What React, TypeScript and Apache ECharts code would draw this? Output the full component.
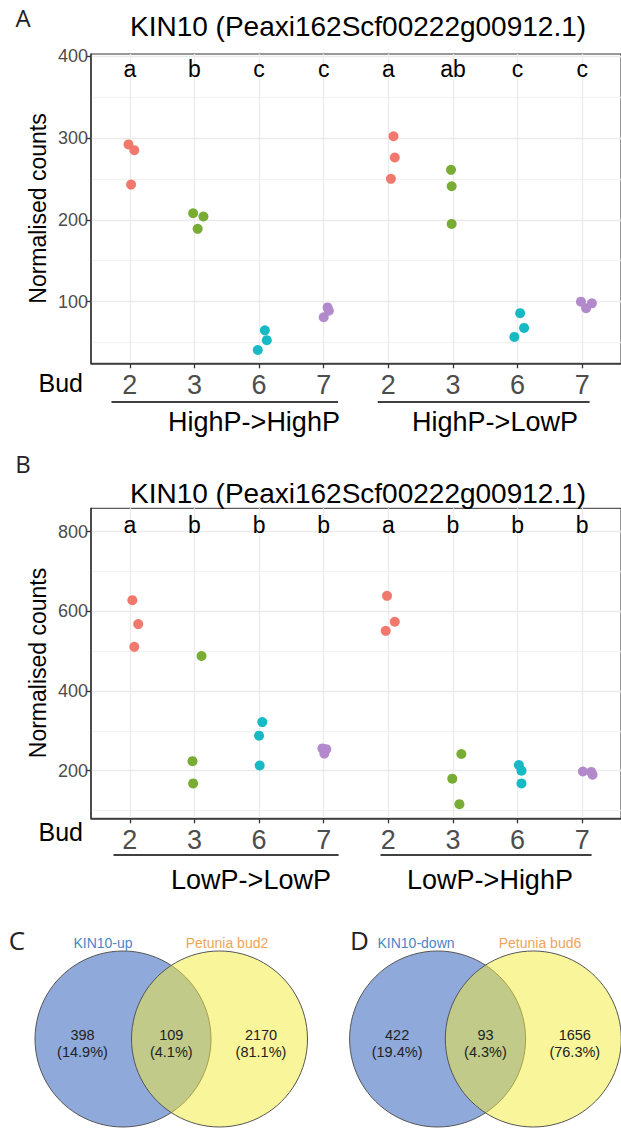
import React, { useEffect, useRef } from "react";
import * as echarts from "echarts";

// ---------- data ----------
const titleText = "KIN10 (Peaxi162Scf00222g00912.1)";
const budLabels = ["2", "3", "6", "7", "2", "3", "6", "7"];
const budPositions = [1, 2, 3, 4, 5, 6, 7, 8];
const groupsA = ["HighP->HighP", "HighP->LowP"];
const groupsB = ["LowP->LowP", "LowP->HighP"];
const lettersA = ["a", "b", "c", "c", "a", "ab", "c", "c"];
const lettersB = ["a", "b", "b", "b", "a", "b", "b", "b"];
const letterLevelA = 384;
const letterLevelB = 818;
const yTicksA = [100, 200, 300, 400];
const yMinorA = [50, 150, 250, 350];
const yTicksB = [200, 400, 600, 800];
const yMinorB = [100, 300, 500, 700];

const countsA = [
  [292, 285, 243],
  [208, 204, 189],
  [65, 53, 41],
  [93, 89, 81],
  [302, 276, 250],
  [261, 241, 195],
  [86, 68, 57],
  [100, 92, 98],
];
const jitterA = [
  [-0.02, 0.07, 0.02],
  [-0.02, 0.14, 0.05],
  [0.09, 0.12, -0.02],
  [0.06, 0.08, 0.0],
  [0.08, 0.1, 0.04],
  [-0.03, -0.02, -0.02],
  [0.04, 0.1, -0.05],
  [-0.02, 0.06, 0.15],
];
const countsB = [
  [628, 568, 511],
  [488, 224, 168],
  [322, 288, 213],
  [256, 254, 243],
  [639, 574, 551],
  [242, 180, 116],
  [214, 200, 168],
  [198, 197, 190],
];
const jitterB = [
  [0.04, 0.13, 0.07],
  [0.11, -0.03, -0.02],
  [0.05, 0.0, 0.01],
  [-0.02, 0.04, 0.01],
  [-0.02, 0.1, -0.04],
  [0.13, -0.01, 0.1],
  [0.02, 0.06, 0.06],
  [0.01, 0.14, 0.16],
];

const vennCSets = ["KIN10-up", "Petunia bud2"];
const vennCCounts = [398, 109, 2170];
const vennCPercents = ["14.9%", "4.1%", "81.1%"];
const vennDSets = ["KIN10-down", "Petunia bud6"];
const vennDCounts = [422, 93, 1656];
const vennDPercents = ["19.4%", "4.3%", "76.3%"];

// ---------- styles ----------
const budColors = ["#F1786D", "#78AC34", "#17BAC4", "#B28ACB"];
const FONT = '"Liberation Sans", Arial, sans-serif';
const LETTER_FONT = '"Open Sans", "Liberation Sans", sans-serif';

function buildPanel(p: number, counts: number[][], jitter: number[][], letters: string[], level: number) {
  const series: any[] = [];
  for (let c = 0; c < 4; c++) {
    const data: number[][] = [];
    [c, c + 4].forEach((g) => {
      counts[g].forEach((v, k) => data.push([budPositions[g] + jitter[g][k], v]));
    });
    series.push({
      type: "scatter",
      xAxisIndex: p,
      yAxisIndex: p * 2,
      symbol: "circle",
      symbolSize: 10,
      itemStyle: { color: budColors[c], opacity: 1 },
      data,
      z: 3,
    });
  }
  series.push({
    type: "scatter",
    xAxisIndex: p,
    yAxisIndex: p * 2,
    symbol: "circle",
    symbolSize: 2,
    itemStyle: { color: "rgba(255,255,255,0)" },
    data: letters.map((_, i) => [budPositions[i], level]),
    label: {
      show: true,
      position: "inside",
      formatter: (prm: any) => letters[prm.dataIndex],
      fontSize: 23,
      color: "#000",
      opacity: 1,
      fontFamily: FONT,
    },
    z: 4,
  });
  return series;
}

function xAxisFor(p: number) {
  return {
    type: "value",
    gridIndex: p,
    min: 0.4,
    max: 8.6,
    axisLine: { show: true, onZero: false, lineStyle: { color: "#333", width: 1.5 } },
    axisTick: { show: true, length: 5, lineStyle: { color: "#333", width: 1.3 }, customValues: budPositions },
    axisLabel: {
      customValues: budPositions,
      formatter: (v: number) => budLabels[Math.round(v) - 1],
      fontSize: 27,
      color: "#4d4d4d",
      margin: 8,
      fontFamily: FONT,
    },
    splitLine: { show: true, lineStyle: { color: "#ebebeb", width: 1.3 } },
  };
}

function yAxesFor(p: number, min: number, max: number, ticks: number[], minor: number[]) {
  return [
    {
      type: "value",
      gridIndex: p,
      min,
      max,
      position: "left",
      axisLine: { show: true, onZero: false, lineStyle: { color: "#333", width: 1.5 } },
      axisTick: { show: true, length: 5, lineStyle: { color: "#333", width: 1.3 }, customValues: ticks },
      axisLabel: { customValues: ticks, fontSize: 18, color: "#4d4d4d", margin: 3, fontFamily: FONT },
      splitLine: { show: true, lineStyle: { color: "#ebebeb", width: 1.3 } },
    },
    {
      type: "value",
      gridIndex: p,
      min,
      max,
      position: "left",
      axisLine: { show: false },
      axisTick: { show: false, customValues: minor },
      axisLabel: { show: false, customValues: minor },
      splitLine: { show: true, lineStyle: { color: "#f1f1f1", width: 1 } },
    },
  ];
}

function txt(text: string, x: number, y: number, size: number, opts: any = {}) {
  return {
    type: "text",
    x,
    y,
    rotation: opts.rotation || 0,
    style: {
      text,
      fill: opts.color || "#000",
      font: `${opts.weight || "normal"} ${size}px ${opts.family || FONT}`,
      textAlign: opts.align || "center",
      textVerticalAlign: "middle",
    },
  };
}

function vennGraphics(sets: string[], counts: number[], pct: string[], cxL: number, cxR: number, cy: number, r: number, letter: string, letterX: number, setLabelX: number[]) {
  const els: any[] = [];
  els.push({ type: "circle", shape: { cx: cxL, cy, r }, style: { fill: "#8FA9DB", stroke: "#555", lineWidth: 1 } });
  els.push({ type: "circle", shape: { cx: cxR, cy, r }, style: { fill: "rgba(243,235,55,0.5)", stroke: "#555", lineWidth: 1 } });
  els.push(txt(letter, letterX, 940, 26, { family: LETTER_FONT, color: "#222" }));
  els.push(txt(sets[0], setLabelX[0], 943, 14, { color: "#4A86C8" }));
  els.push(txt(sets[1], setLabelX[1], 943, 14, { color: "#EFA45A" }));
  const xs = [cxL - 40.5, (cxL + cxR) / 2, cxR + 41.5];
  counts.forEach((cnt, i) => {
    els.push(txt(String(cnt), xs[i], 1035, 14.5, { color: "#222" }));
    els.push(txt(`(${pct[i]})`, xs[i], 1052, 14.5, { color: "#222" }));
  });
  return els;
}

export default function App() {
  const ref = useRef<HTMLDivElement>(null);
  useEffect(() => {
    if (!ref.current) return;
    const chart = echarts.init(ref.current, null, { renderer: "svg" });
    const gridA = { left: 91, top: 54, width: 533, height: 309.3 };
    const gridB = { left: 91, top: 508.3, width: 533, height: 310 };
    const graphic: any[] = [
      txt("A", 23, 17, 24, { family: LETTER_FONT, color: "#222" }),
      txt("B", 23, 463, 24, { family: LETTER_FONT, color: "#222" }),
      txt(titleText, 358, 26, 28),
      txt(titleText, 358, 493, 28),
      txt("Normalised counts", 38, 208.5, 23, { rotation: Math.PI / 2 }),
      txt("Normalised counts", 38, 663, 23, { rotation: Math.PI / 2 }),
      txt("Bud", 83, 383, 25, { align: "right" }),
      txt("Bud", 83, 832, 25, { align: "right" }),
      { type: "line", shape: { x1: 111.5, y1: 402, x2: 338, y2: 402 }, style: { stroke: "#000", lineWidth: 1.5 } },
      { type: "line", shape: { x1: 377.7, y1: 402, x2: 589.6, y2: 402 }, style: { stroke: "#000", lineWidth: 1.5 } },
      { type: "line", shape: { x1: 113.5, y1: 855, x2: 338.6, y2: 855 }, style: { stroke: "#000", lineWidth: 1.5 } },
      { type: "line", shape: { x1: 380.5, y1: 855, x2: 591.6, y2: 855 }, style: { stroke: "#000", lineWidth: 1.5 } },
      txt(groupsA[0], 254, 422, 27),
      txt(groupsA[1], 495, 422, 27),
      txt(groupsB[0], 251, 880, 27),
      txt(groupsB[1], 490, 880, 27),
      ...vennGraphics(vennCSets, vennCCounts, vennCPercents, 123, 219.5, 1039, 88, "C", 17, [103, 227]),
      ...vennGraphics(vennDSets, vennDCounts, vennDPercents, 437.6, 533.3, 1039, 88, "D", 359.5, [416, 540]),
    ];
    chart.setOption({
      animation: false,
      backgroundColor: "#fff",
      textStyle: { fontFamily: FONT },
      grid: [
        { ...gridA, show: true, borderColor: "#333", borderWidth: 1, containLabel: false },
        { ...gridB, show: true, borderColor: "#333", borderWidth: 1, containLabel: false },
      ],
      xAxis: [xAxisFor(0), xAxisFor(1)],
      yAxis: [
        ...yAxesFor(0, 24.8, 402.4, yTicksA, yMinorA),
        ...yAxesFor(1, 80.5, 858.7, yTicksB, yMinorB),
      ],
      series: [
        ...buildPanel(0, countsA, jitterA, lettersA, letterLevelA),
        ...buildPanel(1, countsB, jitterB, lettersB, letterLevelB),
      ],
      graphic,
    });
    return () => chart.dispose();
  }, []);
  return (
    <div style={{ position: "absolute", left: 0, top: 0, width: 621, height: 1130, overflow: "hidden" }}>
      <div ref={ref} style={{ width: 621, height: 1130 }} />
    </div>
  );
}
